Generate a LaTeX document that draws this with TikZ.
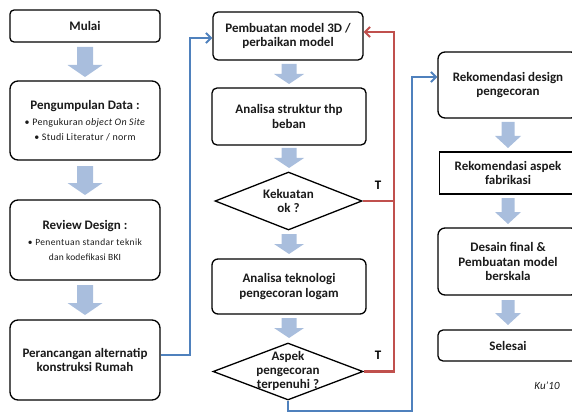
\documentclass[tikz,border=0pt]{standalone}
\usepackage{fontspec}
\setmainfont{Carlito}
\usetikzlibrary{shapes.geometric,arrows.meta}
\definecolor{blockarrow}{HTML}{A9BEDD}
\definecolor{lineblue}{HTML}{4F81BD}
\definecolor{linered}{HTML}{C0504D}
\definecolor{txt}{HTML}{1A1A1A}
% #1 x centre, #2 top y, #3 tip y, #4 shaft width, #5 head width, #6 head length
\newcommand{\blockarr}[6]{%
  \fill[blockarrow] (#1-#4/2,#2) -- (#1+#4/2,#2) -- (#1+#4/2,#3-#6) -- (#1+#5/2,#3-#6)
    -- (#1,#3) -- (#1-#5/2,#3-#6) -- (#1-#4/2,#3-#6) -- cycle;}
\begin{document}
\begin{tikzpicture}[x=1pt,y=-1pt,
  box/.style={draw=black, line width=1.3pt, align=center, text=txt,
    font=\bfseries\fontsize{13}{14.5}\selectfont, inner sep=1pt},
  dia/.style={draw=black, line width=1.3pt, diamond, inner sep=0pt},
  diatext/.style={align=center, text=txt, font=\bfseries\fontsize{13}{14}\selectfont, inner sep=0pt},
  conn/.style={line width=2.6pt, -{Straight Barb[length=5pt,width=10pt,line width=2pt]}},
  bluel/.style={conn, draw=lineblue},
  redl/.style={conn, draw=linered},
  tlabel/.style={font=\bfseries\fontsize{13}{14}\selectfont, text=black}
]
\useasboundingbox (0,0) rectangle (572,414);
\clip (0,0) rectangle (572,414);

% left column
\node[box, rounded corners=4pt, minimum width=150pt, minimum height=32pt] (mulai) at (85,26) {Mulai};
\node[box, rounded corners=8pt, minimum width=150pt, minimum height=79pt] (kumpul) at (85,120.5)
  {Pengumpulan Data :\\[2pt]
   {\mdseries\fontsize{10}{14}\selectfont\addfontfeature{LetterSpace=3}• Pengukuran \textit{object On Site}}\\
   {\mdseries\fontsize{10}{13}\selectfont\addfontfeature{LetterSpace=3}• Studi Literatur / norm}};
\node[box, rounded corners=8pt, minimum width=150pt, minimum height=80pt] (review) at (85,240)
  {Review Design :\\[2pt]
   {\mdseries\fontsize{9.5}{12}\selectfont\addfontfeature{LetterSpace=4}• Penentuan standar teknik}\\
   {\mdseries\fontsize{9.5}{12}\selectfont\addfontfeature{LetterSpace=2}dan kodefikasi BKI}};
\node[box, rounded corners=8pt, minimum width=150pt, minimum height=80pt] (rancang) at (85,360)
  {Perancangan alternatip\\ konstruksi Rumah};

\blockarr{85}{47}{77}{16}{35}{12}
\blockarr{85}{166}{195}{16}{35}{12}
\blockarr{85}{285}{315}{16}{35}{12}

% middle column
\node[box, rounded corners=5pt, minimum width=150pt, minimum height=48pt] (model) at (288,36)
  {Pembuatan model 3D /\\ perbaikan model};
\node[box, rounded corners=5pt, minimum width=154pt, minimum height=57pt] (struktur) at (289,116.5)
  {Analisa struktur thp\\ beban};
\node[dia, minimum width=147pt, minimum height=58pt] (kuat) at (288.5,201) {};
\node[diatext] (kuattxt) at (288.5,200.5) {Kekuatan\\ ok ?};
\node[box, rounded corners=6pt, minimum width=154pt, minimum height=55pt] (tekno) at (289,286.5)
  {Analisa teknologi\\ pengecoran logam};
\node[dia, minimum width=150pt, minimum height=57pt] (aspek) at (288,371.5) {};
\node[diatext] (aspektxt) at (288,370.5) {Aspek\\ pengecoran\\ terpenuhi ?};

\blockarr{289}{64}{84}{15}{30}{10}
\blockarr{289}{148}{168}{15}{30}{10}
\blockarr{289}{234}{254}{15}{30}{10}
\blockarr{289}{318}{338}{15}{30}{10}

% right column
\node[box, rounded corners=7pt, minimum width=140pt, minimum height=66pt] (rekdes) at (508,85)
  {Rekomendasi design\\ pengecoran};
\node[box, minimum width=137pt, minimum height=42pt] (rekasp) at (508,173)
  {Rekomendasi aspek\\ fabrikasi};
\node[box, rounded corners=7pt, minimum width=140pt, minimum height=67pt] (final) at (508,261.5)
  {Desain final \&\\ Pembuatan model\\ berskala};
\node[box, rounded corners=5pt, minimum width=140pt, minimum height=31pt] (selesai) at (508,345.5)
  {Selesai};

\blockarr{508}{122}{148}{13}{26}{12}
\blockarr{508}{198}{224}{13}{26}{12}
\blockarr{508}{300}{325}{13}{26}{12}

\node[font=\itshape\fontsize{11}{12}\selectfont, text=txt] (ku) at (547,386) {Ku'10};

% connectors
\coordinate (bl1) at (190,355);
\coordinate (bl2) at (190,38);
\draw[bluel] (rancang.east |- bl1) -- (bl1) -- (bl2) -- (model.west |- bl2);

\coordinate (rd1) at (394,201);
\coordinate (rd2) at (394,32);
\coordinate (rd3) at (394,371.5);
\draw[redl] (kuat.east) -- (rd1) -- (rd2) -- (model.east |- rd2);
\draw[line width=2.6pt, draw=linered] (aspek.east) -- (rd3) -- (rd1);

\coordinate (bb1) at (288,411);
\coordinate (bb2) at (412,411);
\coordinate (bb3) at (412,77);
\draw[bluel] (aspek.south) -- (bb1) -- (bb2) -- (bb3) -- (rekdes.west |- bb3);

\node[tlabel] (t1) at (378,185) {T};
\node[tlabel] (t2) at (378,355) {T};
\end{tikzpicture}
\end{document}
